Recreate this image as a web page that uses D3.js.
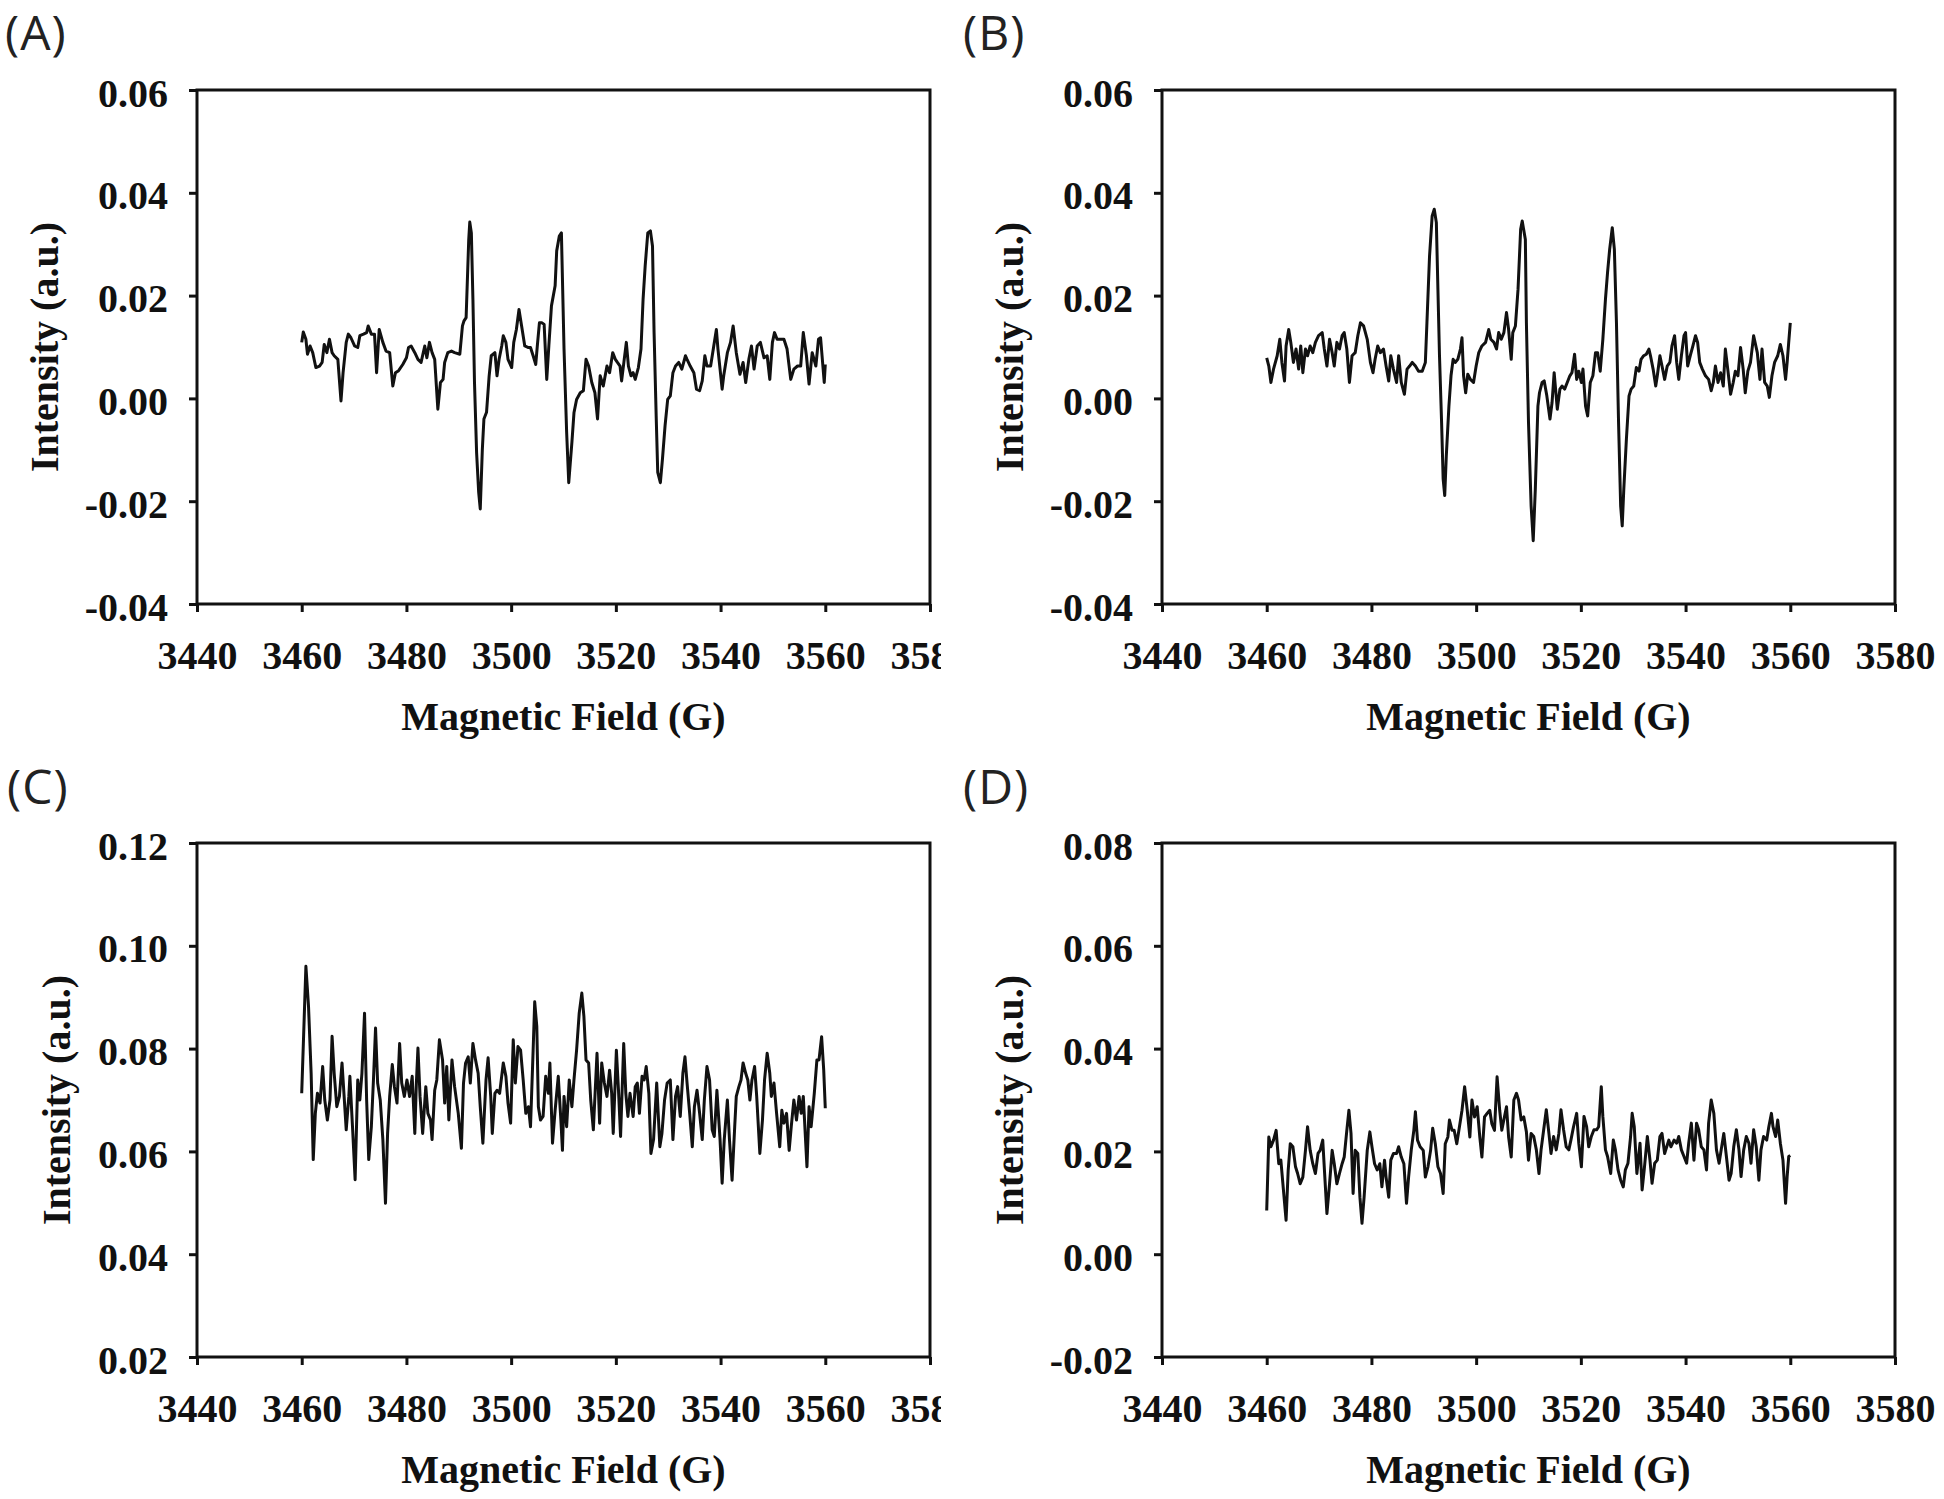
<!DOCTYPE html>
<html>
<head>
<meta charset="utf-8">
<script src="https://cdn.jsdelivr.net/npm/d3@7"></script>
<style>
  body { margin: 0; background: #fff; }
  .tick text, .axis-title { font-family: "Liberation Serif", "Times New Roman", serif; font-weight: bold; font-size: 40px; fill: #111; }
  .panel-label { font-family: "Open Sans", "DejaVu Sans", sans-serif; font-size: 48px; fill: #222; letter-spacing: 1px; }
</style>
</head>
<body>
<script>
// field (G), intensity (a.u.)
const specA = [
  [3460.0,0.0109],[3460.3,0.0129],[3460.8,0.0115],[3461.1,0.0086],[3461.6,0.0102],[3462.1,0.0089],[3462.7,0.0060],[3463.4,0.0063],
  [3463.9,0.0070],[3464.3,0.0105],[3464.8,0.0089],[3465.3,0.0115],[3465.8,0.0089],[3466.2,0.0083],[3466.9,0.0076],[3467.5,-0.0005],
  [3467.9,0.0050],[3468.5,0.0109],[3468.9,0.0125],[3469.4,0.0118],[3470.1,0.0102],[3470.7,0.0099],[3471.1,0.0122],[3471.8,0.0125],
  [3472.4,0.0128],[3472.7,0.0141],[3473.3,0.0125],[3473.9,0.0125],[3474.3,0.0050],[3474.8,0.0134],[3475.5,0.0109],[3476.1,0.0092],
  [3476.8,0.0089],[3477.4,0.0024],[3477.9,0.0050],[3478.5,0.0054],[3479.3,0.0066],[3480.0,0.0079],[3480.4,0.0099],[3480.9,0.0102],
  [3481.6,0.0089],[3482.2,0.0076],[3482.8,0.0070],[3483.5,0.0102],[3483.9,0.0079],[3484.4,0.0109],[3484.9,0.0089],[3485.4,0.0076],
  [3486.0,-0.0021],[3486.5,0.0031],[3487.0,0.0037],[3487.3,0.0070],[3487.9,0.0089],[3488.6,0.0092],[3489.2,0.0089],[3490.2,0.0086],
  [3490.7,0.0141],[3491.0,0.0151],[3491.4,0.0157],[3491.9,0.0309],[3492.1,0.0343],[3492.4,0.0322],[3492.7,0.0193],[3493.0,0.0031],
  [3493.4,-0.0105],[3493.8,-0.0183],[3494.1,-0.0215],[3494.5,-0.0099],[3494.8,-0.0040],[3495.3,-0.0027],[3495.8,0.0044],[3496.2,0.0083],
  [3496.9,0.0089],[3497.3,0.0044],[3497.7,0.0076],[3498.2,0.0102],[3498.5,0.0122],[3499.0,0.0109],[3499.4,0.0076],[3500.1,0.0060],
  [3500.5,0.0109],[3501.0,0.0134],[3501.5,0.0173],[3502.0,0.0141],[3502.6,0.0102],[3503.3,0.0099],[3503.7,0.0099],[3504.2,0.0083],
  [3504.7,0.0066],[3505.0,0.0102],[3505.4,0.0147],[3505.9,0.0147],[3506.3,0.0144],[3506.8,0.0037],[3507.2,0.0102],[3507.7,0.0180],
  [3508.4,0.0219],[3508.7,0.0287],[3509.2,0.0316],[3509.6,0.0322],[3510.1,0.0096],[3510.6,-0.0066],[3511.0,-0.0164],[3511.6,-0.0086],
  [3512.0,-0.0028],[3512.5,-0.0002],[3513.2,0.0011],[3513.8,0.0015],[3514.3,0.0076],[3514.8,0.0063],[3515.4,0.0031],[3516.0,0.0011],
  [3516.5,-0.0040],[3517.0,0.0044],[3517.6,0.0024],[3518.3,0.0063],[3518.8,0.0050],[3519.4,0.0089],[3519.9,0.0076],[3520.3,0.0070],
  [3520.8,0.0063],[3521.1,0.0034],[3521.6,0.0076],[3522.0,0.0109],[3522.4,0.0063],[3522.9,0.0044],[3523.3,0.0050],[3523.7,0.0037],
  [3524.3,0.0060],[3524.8,0.0096],[3525.2,0.0193],[3525.6,0.0258],[3526.1,0.0322],[3526.6,0.0326],[3527.0,0.0296],[3527.3,0.0128],
  [3527.7,-0.0034],[3528.0,-0.0144],[3528.5,-0.0164],[3528.9,-0.0118],[3529.4,-0.0053],[3529.9,-0.0002],[3530.4,0.0005],[3530.9,0.0050],
  [3531.4,0.0063],[3532.0,0.0070],[3532.6,0.0057],[3533.3,0.0083],[3533.6,0.0076],[3534.2,0.0063],[3534.9,0.0050],[3535.4,0.0018],
  [3536.0,0.0015],[3536.5,0.0034],[3537.0,0.0083],[3537.4,0.0063],[3538.1,0.0063],[3538.7,0.0102],[3539.2,0.0134],[3539.5,0.0096],
  [3540.3,0.0018],[3540.6,0.0044],[3541.3,0.0089],[3541.9,0.0109],[3542.4,0.0141],[3543.0,0.0089],[3543.7,0.0047],[3544.3,0.0070],
  [3544.8,0.0031],[3545.4,0.0076],[3545.9,0.0102],[3546.4,0.0057],[3547.0,0.0102],[3547.6,0.0109],[3548.3,0.0079],[3548.9,0.0083],
  [3549.4,0.0037],[3549.9,0.0109],[3550.3,0.0128],[3550.8,0.0115],[3551.5,0.0115],[3552.1,0.0115],[3552.7,0.0096],[3553.4,0.0037],
  [3554.0,0.0057],[3554.7,0.0063],[3555.3,0.0063],[3555.8,0.0128],[3556.4,0.0083],[3556.9,0.0028],[3557.5,0.0089],[3558.2,0.0063],
  [3558.7,0.0115],[3559.1,0.0118],[3559.8,0.0031],[3560.0,0.0066]
];

const specB = [
  [3460.0,0.0079],[3460.4,0.0063],[3460.8,0.0031],[3461.3,0.0057],[3462.0,0.0083],[3462.5,0.0115],[3462.9,0.0070],[3463.4,0.0034],
  [3463.7,0.0102],[3464.2,0.0134],[3464.6,0.0109],[3465.1,0.0070],[3465.6,0.0096],[3466.1,0.0057],[3466.5,0.0102],[3466.9,0.0050],
  [3467.4,0.0096],[3467.8,0.0083],[3468.3,0.0102],[3468.8,0.0089],[3469.3,0.0109],[3469.9,0.0122],[3470.6,0.0128],[3471.0,0.0096],
  [3471.5,0.0063],[3472.0,0.0115],[3472.5,0.0089],[3472.9,0.0063],[3473.4,0.0109],[3473.9,0.0096],[3474.4,0.0122],[3474.8,0.0128],
  [3475.3,0.0096],[3475.8,0.0031],[3476.3,0.0083],[3476.9,0.0089],[3477.4,0.0122],[3477.9,0.0147],[3478.5,0.0141],[3479.2,0.0115],
  [3479.8,0.0070],[3480.3,0.0050],[3480.7,0.0076],[3481.2,0.0102],[3481.7,0.0089],[3482.3,0.0096],[3482.8,0.0063],[3483.3,0.0034],
  [3483.7,0.0083],[3484.2,0.0057],[3484.8,0.0031],[3485.2,0.0083],[3485.7,0.0031],[3486.3,0.0008],[3486.8,0.0057],[3487.3,0.0063],
  [3487.8,0.0070],[3488.4,0.0063],[3489.0,0.0053],[3489.7,0.0053],[3490.3,0.0070],[3490.6,0.0147],[3491.1,0.0277],[3491.6,0.0355],
  [3492.0,0.0368],[3492.4,0.0342],[3492.7,0.0212],[3493.0,0.0083],[3493.4,-0.0047],[3493.7,-0.0157],[3494.0,-0.0189],[3494.3,-0.0112],
  [3494.8,-0.0015],[3495.2,0.0044],[3495.6,0.0076],[3496.0,0.0070],[3496.5,0.0076],[3497.0,0.0096],[3497.3,0.0118],[3497.6,0.0044],
  [3498.0,0.0011],[3498.4,0.0047],[3498.9,0.0037],[3499.5,0.0031],[3500.0,0.0063],[3500.5,0.0089],[3501.1,0.0102],[3501.8,0.0109],
  [3502.4,0.0134],[3502.8,0.0115],[3503.4,0.0109],[3503.9,0.0096],[3504.3,0.0128],[3504.8,0.0115],[3505.3,0.0128],[3505.8,0.0167],
  [3506.2,0.0134],[3506.7,0.0076],[3507.0,0.0128],[3507.5,0.0141],[3508.0,0.0212],[3508.5,0.0329],[3508.8,0.0345],[3509.4,0.0309],
  [3509.6,0.0147],[3510.0,-0.0047],[3510.5,-0.0209],[3510.9,-0.0277],[3511.3,-0.0177],[3511.8,-0.0015],[3512.1,0.0011],[3512.6,0.0031],
  [3513.0,0.0034],[3513.5,0.0005],[3514.1,-0.0040],[3514.5,-0.0008],[3514.9,0.0050],[3515.5,-0.0021],[3516.0,0.0018],[3516.4,0.0024],
  [3516.9,0.0018],[3517.4,0.0031],[3517.9,0.0044],[3518.3,0.0050],[3518.8,0.0086],[3519.2,0.0037],[3519.6,0.0053],[3520.1,0.0031],
  [3520.4,0.0057],[3520.9,-0.0015],[3521.3,-0.0034],[3521.8,0.0031],[3522.3,0.0044],[3522.8,0.0089],[3523.2,0.0089],[3523.7,0.0053],
  [3524.2,0.0115],[3524.7,0.0193],[3525.1,0.0245],[3525.5,0.0290],[3526.0,0.0332],[3526.4,0.0290],[3526.8,0.0147],[3527.2,-0.0047],
  [3527.6,-0.0209],[3527.9,-0.0248],[3528.2,-0.0177],[3528.7,-0.0079],[3529.2,0.0005],[3529.6,0.0018],[3530.1,0.0024],[3530.6,0.0060],
  [3531.1,0.0053],[3531.5,0.0076],[3532.0,0.0083],[3532.5,0.0086],[3533.0,0.0096],[3533.3,0.0083],[3533.8,0.0057],[3534.3,0.0024],
  [3534.6,0.0044],[3535.1,0.0083],[3535.5,0.0063],[3536.0,0.0037],[3536.5,0.0063],[3537.0,0.0070],[3537.4,0.0102],[3537.9,0.0122],
  [3538.3,0.0070],[3538.7,0.0037],[3539.2,0.0083],[3539.7,0.0122],[3540.0,0.0128],[3540.4,0.0063],[3540.9,0.0083],[3541.4,0.0102],
  [3541.9,0.0122],[3542.3,0.0109],[3542.7,0.0070],[3543.2,0.0057],[3543.8,0.0044],[3544.4,0.0037],[3544.9,0.0015],[3545.3,0.0031],
  [3545.7,0.0063],[3546.2,0.0031],[3546.7,0.0050],[3547.2,0.0024],[3547.6,0.0096],[3548.1,0.0053],[3548.6,0.0008],[3549.1,0.0031],
  [3549.5,0.0053],[3550.0,0.0044],[3550.5,0.0099],[3551.0,0.0057],[3551.4,0.0011],[3551.9,0.0053],[3552.4,0.0070],[3553.0,0.0122],
  [3553.7,0.0089],[3554.2,0.0037],[3554.6,0.0096],[3555.1,0.0031],[3555.6,0.0024],[3556.0,0.0002],[3556.5,0.0044],[3557.0,0.0070],
  [3557.6,0.0083],[3558.1,0.0105],[3558.6,0.0083],[3559.1,0.0037],[3559.4,0.0070],[3559.7,0.0109],[3560.0,0.0147]
];

const specC = [
  [3460.0,0.0713],[3460.8,0.0960],[3461.3,0.0882],[3461.8,0.0752],[3462.2,0.0584],[3462.6,0.0674],[3463.0,0.0713],[3463.5,0.0694],
  [3464.0,0.0765],[3464.4,0.0700],[3464.9,0.0661],[3465.4,0.0700],[3465.8,0.0824],[3466.2,0.0752],[3466.7,0.0687],[3467.2,0.0707],
  [3467.7,0.0772],[3468.1,0.0707],[3468.5,0.0642],[3469.0,0.0707],[3469.2,0.0746],[3469.7,0.0648],[3470.2,0.0545],[3470.7,0.0739],
  [3471.1,0.0700],[3471.5,0.0752],[3472.0,0.0869],[3472.4,0.0700],[3472.8,0.0584],[3473.3,0.0648],[3473.7,0.0739],[3474.1,0.0840],
  [3474.5,0.0733],[3475.0,0.0700],[3475.5,0.0623],[3476.0,0.0499],[3476.4,0.0635],[3476.8,0.0707],[3477.3,0.0769],[3477.7,0.0726],
  [3478.2,0.0694],[3478.7,0.0810],[3479.1,0.0733],[3479.6,0.0707],[3480.1,0.0739],[3480.6,0.0707],[3481.1,0.0746],[3481.6,0.0635],
  [3481.9,0.0733],[3482.2,0.0801],[3482.6,0.0707],[3483.1,0.0635],[3483.7,0.0726],[3484.1,0.0674],[3484.6,0.0661],[3484.9,0.0623],
  [3485.4,0.0719],[3485.8,0.0739],[3486.3,0.0817],[3486.9,0.0778],[3487.3,0.0694],[3487.7,0.0765],[3488.1,0.0661],[3488.7,0.0778],
  [3489.2,0.0726],[3489.9,0.0674],[3490.5,0.0606],[3490.9,0.0733],[3491.3,0.0772],[3491.8,0.0784],[3492.2,0.0733],[3492.7,0.0810],
  [3493.2,0.0778],[3493.7,0.0752],[3494.1,0.0687],[3494.6,0.0616],[3495.2,0.0739],[3495.6,0.0782],[3496.1,0.0707],[3496.4,0.0635],
  [3496.9,0.0713],[3497.3,0.0719],[3497.8,0.0713],[3498.5,0.0772],[3499.0,0.0746],[3499.4,0.0694],[3499.9,0.0655],[3500.4,0.0817],
  [3500.8,0.0733],[3501.3,0.0804],[3501.8,0.0797],[3502.3,0.0739],[3502.8,0.0674],[3503.3,0.0687],[3503.7,0.0648],[3504.2,0.0797],
  [3504.5,0.0891],[3504.9,0.0843],[3505.2,0.0687],[3505.6,0.0661],[3506.1,0.0668],[3506.6,0.0746],[3507.1,0.0713],[3507.4,0.0772],
  [3507.9,0.0616],[3508.4,0.0680],[3509.0,0.0746],[3509.5,0.0661],[3509.8,0.0602],[3510.1,0.0707],[3510.6,0.0648],[3511.1,0.0739],
  [3511.6,0.0687],[3512.0,0.0739],[3512.5,0.0797],[3513.0,0.0869],[3513.5,0.0908],[3513.9,0.0862],[3514.3,0.0778],[3514.8,0.0772],
  [3515.2,0.0700],[3515.7,0.0642],[3516.4,0.0791],[3516.9,0.0655],[3517.3,0.0772],[3517.8,0.0733],[3518.3,0.0707],[3518.8,0.0758],
  [3519.2,0.0713],[3519.5,0.0635],[3520.1,0.0797],[3520.5,0.0719],[3520.9,0.0629],[3521.5,0.0810],[3521.9,0.0713],[3522.3,0.0668],
  [3522.7,0.0713],[3523.3,0.0668],[3523.7,0.0726],[3524.1,0.0733],[3524.5,0.0674],[3525.0,0.0746],[3525.4,0.0739],[3525.8,0.0765],
  [3526.3,0.0713],[3526.7,0.0596],[3527.2,0.0623],[3527.8,0.0733],[3528.4,0.0609],[3528.8,0.0635],[3529.3,0.0700],[3529.8,0.0733],
  [3530.4,0.0739],[3530.9,0.0623],[3531.4,0.0707],[3531.8,0.0726],[3532.3,0.0668],[3532.8,0.0752],[3533.2,0.0784],[3533.6,0.0733],
  [3534.1,0.0674],[3534.6,0.0609],[3535.0,0.0687],[3535.5,0.0719],[3536.0,0.0674],[3536.5,0.0623],[3536.9,0.0700],[3537.4,0.0765],
  [3537.9,0.0739],[3538.4,0.0642],[3538.8,0.0629],[3539.3,0.0719],[3539.9,0.0623],[3540.3,0.0538],[3540.7,0.0623],[3541.3,0.0700],
  [3541.7,0.0623],[3542.2,0.0544],[3542.7,0.0648],[3543.0,0.0707],[3543.5,0.0726],[3543.9,0.0739],[3544.3,0.0772],[3544.8,0.0752],
  [3545.2,0.0739],[3545.6,0.0700],[3546.0,0.0739],[3546.5,0.0765],[3546.9,0.0707],[3547.5,0.0596],[3548.0,0.0661],[3548.4,0.0739],
  [3548.9,0.0791],[3549.4,0.0752],[3549.7,0.0707],[3550.2,0.0733],[3550.7,0.0674],[3551.3,0.0609],[3551.7,0.0680],[3552.1,0.0655],
  [3552.6,0.0674],[3553.1,0.0602],[3553.5,0.0648],[3554.0,0.0700],[3554.5,0.0661],[3555.0,0.0707],[3555.4,0.0674],[3555.8,0.0707],
  [3556.5,0.0570],[3556.9,0.0687],[3557.3,0.0648],[3557.9,0.0713],[3558.4,0.0778],[3558.8,0.0778],[3559.3,0.0823],[3559.7,0.0758],
  [3560.0,0.0684]
];

const specD = [
  [3460.0,0.0085],[3460.4,0.0228],[3460.8,0.0209],[3461.3,0.0222],[3461.8,0.0241],[3462.3,0.0176],[3462.7,0.0183],[3463.2,0.0124],
  [3463.7,0.0066],[3464.1,0.0163],[3464.5,0.0215],[3465.0,0.0209],[3465.5,0.0170],[3465.9,0.0157],[3466.4,0.0137],[3466.9,0.0150],
  [3467.4,0.0202],[3467.8,0.0248],[3468.3,0.0202],[3468.8,0.0176],[3469.3,0.0157],[3469.8,0.0196],[3470.2,0.0202],[3470.7,0.0222],
  [3471.1,0.0150],[3471.5,0.0079],[3472.0,0.0137],[3472.5,0.0202],[3472.9,0.0176],[3473.4,0.0137],[3473.9,0.0157],[3474.4,0.0176],
  [3474.8,0.0189],[3475.3,0.0241],[3475.7,0.0280],[3476.1,0.0235],[3476.5,0.0118],[3476.9,0.0202],[3477.4,0.0196],[3477.8,0.0111],
  [3478.2,0.0060],[3478.6,0.0111],[3479.2,0.0202],[3479.7,0.0238],[3480.1,0.0209],[3480.6,0.0176],[3481.1,0.0164],[3481.6,0.0176],
  [3482.0,0.0131],[3482.5,0.0183],[3482.8,0.0150],[3483.3,0.0111],[3483.7,0.0183],[3484.2,0.0196],[3484.8,0.0196],[3485.2,0.0209],
  [3485.7,0.0189],[3486.2,0.0176],[3486.7,0.0099],[3487.1,0.0150],[3487.6,0.0202],[3488.1,0.0241],[3488.4,0.0277],[3488.8,0.0222],
  [3489.3,0.0209],[3489.9,0.0202],[3490.3,0.0150],[3490.8,0.0170],[3491.3,0.0202],[3491.7,0.0245],[3492.2,0.0215],[3492.7,0.0170],
  [3493.2,0.0157],[3493.7,0.0118],[3494.1,0.0215],[3494.6,0.0228],[3494.9,0.0261],[3495.4,0.0241],[3495.8,0.0241],[3496.3,0.0215],
  [3496.9,0.0254],[3497.3,0.0280],[3497.8,0.0326],[3498.3,0.0280],[3498.8,0.0228],[3499.2,0.0300],[3499.7,0.0267],[3500.2,0.0287],
  [3500.7,0.0228],[3501.1,0.0189],[3501.6,0.0267],[3502.1,0.0274],[3502.6,0.0280],[3503.0,0.0254],[3503.5,0.0241],[3504.0,0.0345],
  [3504.5,0.0280],[3504.9,0.0241],[3505.4,0.0267],[3505.8,0.0287],[3506.2,0.0228],[3506.7,0.0189],[3507.2,0.0300],[3507.7,0.0313],
  [3508.1,0.0300],[3508.6,0.0261],[3509.1,0.0267],[3509.6,0.0238],[3510.0,0.0183],[3510.5,0.0235],[3511.0,0.0229],[3511.5,0.0203],
  [3512.0,0.0157],[3512.4,0.0203],[3512.9,0.0242],[3513.4,0.0281],[3513.9,0.0235],[3514.3,0.0196],[3514.8,0.0229],[3515.3,0.0203],
  [3515.8,0.0235],[3516.2,0.0281],[3516.7,0.0242],[3517.2,0.0209],[3517.7,0.0203],[3518.1,0.0222],[3518.6,0.0248],[3519.2,0.0274],
  [3519.6,0.0216],[3520.1,0.0170],[3520.6,0.0268],[3521.1,0.0248],[3521.5,0.0209],[3522.0,0.0229],[3522.5,0.0242],[3523.0,0.0242],
  [3523.4,0.0248],[3523.9,0.0326],[3524.2,0.0268],[3524.7,0.0203],[3525.1,0.0190],[3525.7,0.0157],[3526.2,0.0222],[3526.6,0.0203],
  [3527.1,0.0164],[3527.6,0.0144],[3528.1,0.0131],[3528.5,0.0164],[3529.0,0.0177],[3529.5,0.0229],[3529.8,0.0274],[3530.2,0.0248],
  [3530.7,0.0157],[3531.3,0.0216],[3531.7,0.0125],[3532.1,0.0164],[3532.7,0.0229],[3533.2,0.0183],[3533.6,0.0138],[3534.1,0.0177],
  [3534.6,0.0183],[3535.1,0.0229],[3535.5,0.0235],[3536.0,0.0196],[3536.4,0.0209],[3536.8,0.0222],[3537.2,0.0209],[3537.8,0.0222],
  [3538.3,0.0216],[3538.7,0.0229],[3539.2,0.0203],[3539.7,0.0190],[3540.2,0.0177],[3540.6,0.0216],[3541.1,0.0255],[3541.6,0.0183],
  [3542.1,0.0255],[3542.5,0.0242],[3543.0,0.0209],[3543.5,0.0203],[3544.0,0.0164],[3544.4,0.0255],[3544.9,0.0300],[3545.4,0.0274],
  [3545.9,0.0203],[3546.4,0.0177],[3546.8,0.0203],[3547.3,0.0235],[3547.8,0.0190],[3548.3,0.0144],[3548.7,0.0157],[3549.2,0.0209],
  [3549.7,0.0242],[3550.2,0.0203],[3550.6,0.0151],[3551.1,0.0203],[3551.6,0.0229],[3552.1,0.0216],[3552.5,0.0177],[3553.0,0.0242],
  [3553.5,0.0209],[3554.0,0.0144],[3554.4,0.0203],[3554.9,0.0229],[3555.5,0.0222],[3555.9,0.0248],[3556.4,0.0274],[3556.7,0.0248],
  [3557.2,0.0229],[3557.6,0.0261],[3558.1,0.0216],[3558.6,0.0183],[3559.1,0.0099],[3559.4,0.0151],[3559.7,0.0190],[3560.0,0.0192]
];

const fieldTicks = [3440, 3460, 3480, 3500, 3520, 3540, 3560, 3580];
const intensityTicksAB = [-0.04, -0.02, 0, 0.02, 0.04, 0.06];
const intensityTicksC = [0.02, 0.04, 0.06, 0.08, 0.10, 0.12];
const intensityTicksD = [-0.02, 0, 0.02, 0.04, 0.06, 0.08];
const panelNames = ["(A)", "(B)", "(C)", "(D)"];

const W = 1944, H = 1499;
const plotW = 733, plotH = 514;

const panels = [
    {name: panelNames[0], data: specA, ticks: intensityTicksAB, left: 197, top: 90, labelX: 5, labelY: 50, titleDx: -139, clip: true},
    {name: panelNames[1], data: specB, ticks: intensityTicksAB, left: 1162, top: 90, labelX: 963, labelY: 50, titleDx: -139, clip: false},
    {name: panelNames[2], data: specC, ticks: intensityTicksC, left: 197, top: 843, labelX: 7, labelY: 804, titleDx: -127, clip: true},
    {name: panelNames[3], data: specD, ticks: intensityTicksD, left: 1162, top: 843, labelX: 963, labelY: 804, titleDx: -139, clip: false},
];

const svg = d3.select("body").append("svg")
    .attr("width", W)
    .attr("height", H);

svg.append("rect").attr("width", W).attr("height", H).attr("fill", "#fff");

// left-hand panels were cropped just past the plot frame in the original figure
svg.append("clipPath").attr("id", "leftcrop")
    .append("rect").attr("x", 0).attr("y", 0).attr("width", 941).attr("height", H);

const fmt = d => d.toFixed(2);

panels.forEach(p => {
    const g = svg.append("g");
    if (p.clip) g.attr("clip-path", "url(#leftcrop)");

    const x = d3.scaleLinear()
        .domain([fieldTicks[0], fieldTicks[fieldTicks.length - 1]])
        .range([p.left, p.left + plotW]);
    const y = d3.scaleLinear()
        .domain([p.ticks[0], p.ticks[p.ticks.length - 1]])
        .range([p.top + plotH, p.top]);

    /* axes */
    const xAxis = g.append("g")
        .attr("transform", `translate(0, ${p.top + plotH})`)
        .call(d3.axisBottom(x).tickValues(fieldTicks).tickSize(8).tickSizeOuter(0).tickFormat(d3.format("d")));
    xAxis.selectAll("text").attr("y", 65).attr("dy", 0);

    const yAxis = g.append("g")
        .attr("transform", `translate(${p.left}, 0)`)
        .call(d3.axisLeft(y).tickValues(p.ticks).tickSize(8).tickSizeOuter(0).tickPadding(21).tickFormat(fmt));
    yAxis.selectAll("text").attr("dy", "0.4em");

    g.selectAll(".domain").remove();
    g.selectAll(".tick line").attr("stroke", "#111").attr("stroke-width", 3);

    /* frame */
    g.append("rect")
        .attr("x", p.left)
        .attr("y", p.top)
        .attr("width", plotW)
        .attr("height", plotH)
        .attr("fill", "none")
        .attr("stroke", "#111")
        .attr("stroke-width", 3);

    /* spectrum */
    const line = d3.line()
        .x(d => x(d[0]))
        .y(d => y(d[1]));

    g.append("path")
        .datum(p.data)
        .attr("d", line)
        .attr("fill", "none")
        .attr("stroke", "#111")
        .attr("stroke-width", 3)
        .attr("stroke-linejoin", "round");

    /* titles */
    g.append("text")
        .attr("class", "axis-title")
        .attr("x", p.left + plotW / 2)
        .attr("y", p.top + plotH + 126)
        .attr("text-anchor", "middle")
        .text("Magnetic Field (G)");

    g.append("text")
        .attr("class", "axis-title")
        .attr("transform", `translate(${p.left + p.titleDx}, ${p.top + plotH / 2}) rotate(-90)`)
        .attr("text-anchor", "middle")
        .text("Intensity (a.u.)");

    svg.append("text")
        .attr("class", "panel-label")
        .attr("x", p.labelX)
        .attr("y", p.labelY)
        .text(p.name);
});
</script>
</body>
</html>
